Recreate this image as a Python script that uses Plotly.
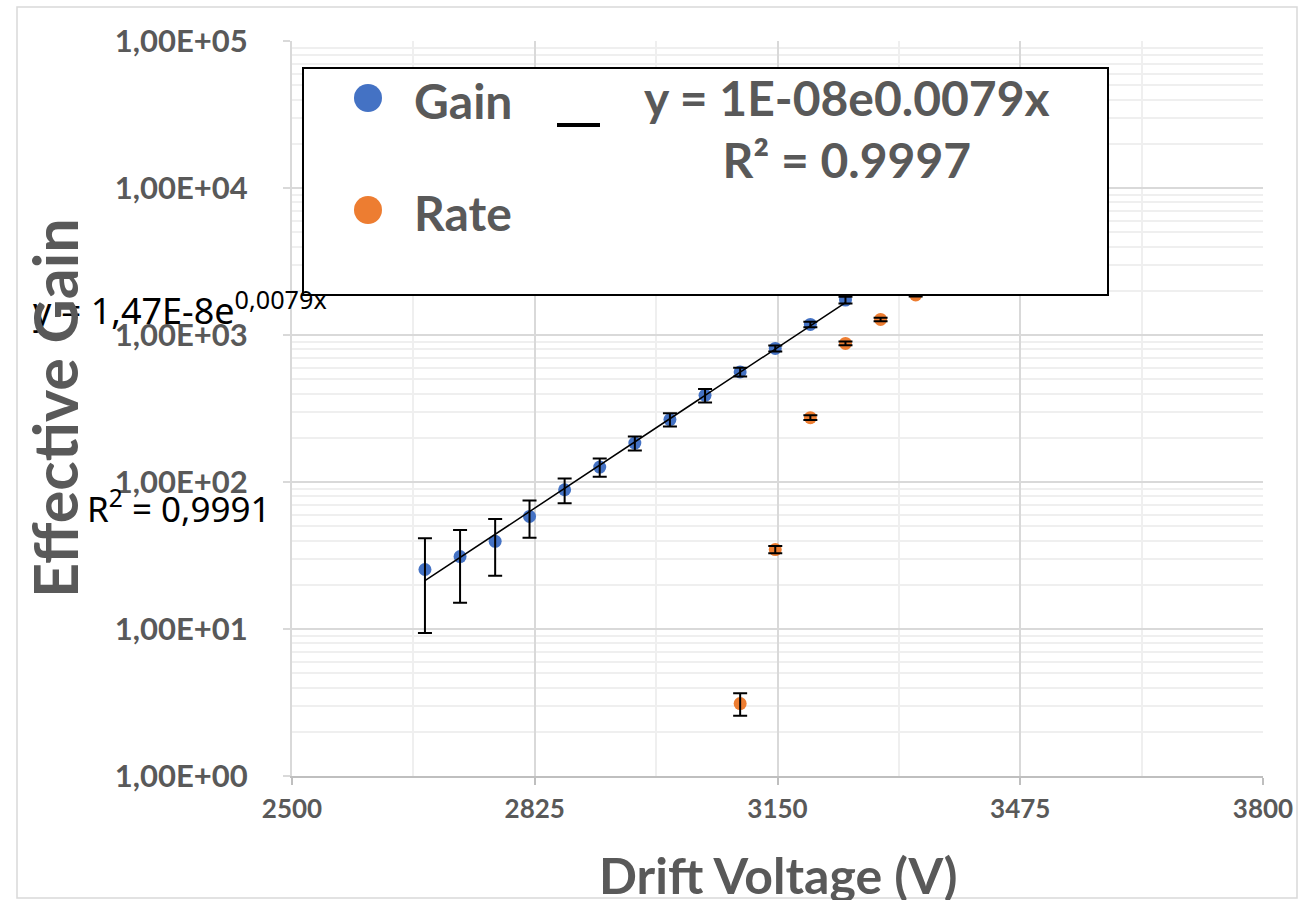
import numpy as np
import plotly.graph_objects as go

# ---------------- data ----------------
drift_voltage_gain = [2678, 2725, 2772, 2818, 2865, 2912, 2959, 3006, 3053, 3100, 3147, 3194, 3241]
gain = [25.4, 31.1, 39.5, 58.3, 88.6, 126.4, 184, 266, 389, 561, 810, 1181, 1729]
gain_err = [16, 16, 16.5, 16.6, 17, 18, 20, 27, 41, 38, 38, 50, 90]

drift_voltage_rate = [3100, 3147, 3194, 3241, 3288, 3335]
rate = [3.11, 34.7, 274, 877, 1277, 1872]
rate_err = [0.54, 2, 10, 25, 35, 45]

x_tickvals = [2500, 2825, 3150, 3475, 3800]
y_tickvals = [1, 10, 100, 1000, 10000, 100000]
y_ticktext = ["1,00E+00", "1,00E+01", "1,00E+02", "1,00E+03", "1,00E+04", "1,00E+05"]

# ---------------- layout helpers ----------------
W, H = 1313, 900
ML, MR, MT, MB = 292, 50, 41, 124
PW, PH = W - ML - MR, H - MT - MB


def px(x):
    return (x - ML) / PW


def py(y):
    return (H - MB - y) / PH


GRAY = "#595959"
BLUE = "#4472C4"
ORANGE = "#ED7D31"
FONT_B = "Lato"

# exponential trendline (least squares on ln y, as a spreadsheet does)
coef = np.polyfit(drift_voltage_gain, np.log(gain), 1)
fit_x = np.linspace(min(drift_voltage_gain), max(drift_voltage_gain), 120)
fit_y = np.exp(coef[1]) * np.exp(coef[0] * fit_x)

fig = go.Figure()
fig.add_trace(go.Scatter(x=drift_voltage_gain, y=gain, mode="markers",
                         marker=dict(color=BLUE, size=13), name="Gain",
                         showlegend=False, hoverinfo="skip"))
fig.add_trace(go.Scatter(x=drift_voltage_rate, y=rate, mode="markers",
                         marker=dict(color=ORANGE, size=13), name="Rate",
                         showlegend=False, hoverinfo="skip"))
# error bars drawn on top of the markers
fig.add_trace(go.Scatter(x=drift_voltage_gain, y=gain, mode="markers",
                         marker=dict(color="rgba(0,0,0,0)", size=1),
                         error_y=dict(type="data", array=gain_err, color="black",
                                      thickness=2, width=7),
                         showlegend=False, hoverinfo="skip"))
fig.add_trace(go.Scatter(x=drift_voltage_rate, y=rate, mode="markers",
                         marker=dict(color="rgba(0,0,0,0)", size=1),
                         error_y=dict(type="data", array=rate_err, color="black",
                                      thickness=2, width=7),
                         showlegend=False, hoverinfo="skip"))
fig.add_trace(go.Scatter(x=fit_x, y=fit_y, mode="lines",
                         line=dict(color="black", width=1.5),
                         showlegend=False, hoverinfo="skip"))

fig.update_layout(
    width=W, height=H,
    margin=dict(l=ML, r=MR, t=MT, b=MB),
    paper_bgcolor="white", plot_bgcolor="white",
    showlegend=False,
    xaxis=dict(
        range=[2500, 3800], tickmode="array", tickvals=x_tickvals,
        showgrid=True, gridcolor="#d9d9d9", gridwidth=2,
        minor=dict(tick0=2500, dtick=162.5, showgrid=True, gridcolor="#efefef", gridwidth=2,
                   ticks=""),
        ticks="outside", ticklen=7, tickwidth=2, tickcolor="#bfbfbf",
        showline=True, linecolor="#bfbfbf", linewidth=2, zeroline=False,
        tickfont=dict(family=FONT_B, size=26, color=GRAY, weight="bold"),
        ticklabelstandoff=2,
    ),
    yaxis=dict(
        type="log", range=[0, 5], tickmode="array", tickvals=y_tickvals, ticktext=y_ticktext,
        showgrid=True, gridcolor="#d9d9d9", gridwidth=2,
        minor=dict(dtick="D1", showgrid=True, gridcolor="#efefef", gridwidth=2, ticks=""),
        ticks="outside", ticklen=7, tickwidth=2, tickcolor="#d9d9d9",
        showline=True, linecolor="#d9d9d9", linewidth=2, zeroline=False,
        tickfont=dict(family=FONT_B, size=31, color=GRAY, weight="bold"),
        ticklabelstandoff=29,
    ),
)

shapes = [
    # outer chart border
    dict(type="rect", xref="paper", yref="paper", x0=px(17), x1=px(1297), y0=py(898), y1=py(7),
         line=dict(color="#d9d9d9", width=1.5), fillcolor="rgba(0,0,0,0)", layer="below"),
    # legend box
    dict(type="rect", xref="paper", yref="paper", x0=px(303), x1=px(1108), y0=py(295), y1=py(68),
         line=dict(color="black", width=2), fillcolor="white", layer="above"),
    # legend symbols
    dict(type="circle", xref="paper", yref="paper", xsizemode="pixel", ysizemode="pixel",
         xanchor=px(368), yanchor=py(98), x0=-14, x1=14, y0=-14, y1=14,
         fillcolor=BLUE, line=dict(width=0), layer="above"),
    dict(type="circle", xref="paper", yref="paper", xsizemode="pixel", ysizemode="pixel",
         xanchor=px(368), yanchor=py(210), x0=-14, x1=14, y0=-14, y1=14,
         fillcolor=ORANGE, line=dict(width=0), layer="above"),
    dict(type="line", xref="paper", yref="paper", x0=px(557), x1=px(600), y0=py(125), y1=py(125),
         line=dict(color="black", width=4), layer="above"),
]
fig.update_layout(shapes=shapes)

ann_legend_font = dict(family=FONT_B, size=48, color=GRAY, weight="bold")
annotations = [
    dict(text="Gain", x=px(412), y=py(100), xanchor="left", yanchor="middle", font=ann_legend_font),
    dict(text="Rate", x=px(412), y=py(212), xanchor="left", yanchor="middle", font=ann_legend_font),
    dict(text="y = 1E-08e0.0079x<br>R² = 0.9997", x=px(847), y=py(129), xanchor="center",
         yanchor="middle", align="center", font=ann_legend_font),
    dict(text="y = 1,47E-8e<sup>0,0079x</sup>", x=px(31), y=py(308), xanchor="left", yanchor="middle",
         font=dict(family="Noto Sans", size=36, color="black")),
    dict(text="R<sup>2</sup> = 0,9991", x=px(85), y=py(506), xanchor="left", yanchor="middle",
         font=dict(family="Noto Sans", size=35, color="black")),
    dict(text="Effective Gain", x=px(55), y=py(408), xanchor="center", yanchor="middle", textangle=-90,
         font=dict(family=FONT_B, size=61, color=GRAY, weight="bold")),
    dict(text="Drift Voltage (V)", x=px(778), y=py(875), xanchor="center", yanchor="middle",
         font=dict(family=FONT_B, size=50, color=GRAY, weight="bold")),
]
for a in annotations:
    a.update(xref="paper", yref="paper", showarrow=False)
fig.update_layout(annotations=annotations)

fig.write_html("out.html")
